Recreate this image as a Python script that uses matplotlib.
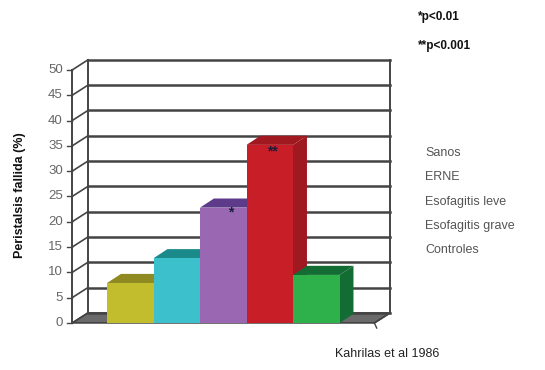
import matplotlib.pyplot as plt
from matplotlib.patches import Polygon

plt.rcParams['font.family'] = ['Liberation Sans', 'DejaVu Sans']

categories = ["Sanos", "ERNE", "Esofagitis leve", "Esofagitis grave", "Controles"]
values = [7.9, 12.8, 22.8, 35.2, 9.5]
marks = ["", "", "*", "**", ""]
yticks = [0, 5, 10, 15, 20, 25, 30, 35, 40, 45, 50]

front_colors = ["#c2bd2c", "#3cc0cc", "#9a68b2", "#c81e28", "#2eb04a"]
dark_colors = ["#8f8a22", "#1a8a8a", "#5e3a8a", "#a01820", "#126c34"]

# pseudo-3D geometry (data units)
X0 = -1.25          # front-left corner
X1 = 5.25           # front-right corner
DX, DY = 0.34, 2.0  # wall depth
BDX, BDY = 0.3, 1.8 # bar depth
YMAX = 50

fig = plt.figure(figsize=(5.45, 3.70), dpi=100)
ax = fig.add_axes([0, 0, 1, 1])
ax.set_xlim(-2.801, 8.919)
ax.set_ylim(-9.29, 63.83)
ax.axis("off")

grid_c = "#444444"

# floor
floor = Polygon([(X0, 0), (X1, 0), (X1 + DX, DY), (X0 + DX, DY)],
                closed=True, facecolor="#6a6a6a", edgecolor="#333333", lw=1.0, zorder=1)
ax.add_patch(floor)

# back wall + grid
for t in yticks:
  ax.plot([X0 + DX, X1 + DX], [t + DY, t + DY], color=grid_c, lw=1.8, zorder=2)
  ax.plot([X0, X0 + DX], [t, t + DY], color=grid_c, lw=1.2, zorder=2)
  ax.plot([X0 - 0.12, X0], [t, t], color=grid_c, lw=1.0, zorder=2)
  ax.text(X0 - 0.2, t, str(t), ha="right", va="center", fontsize=9.5, color="#666666")
ax.plot([X0 + DX, X0 + DX], [DY, YMAX + DY], color=grid_c, lw=1.4, zorder=2)
ax.plot([X1 + DX, X1 + DX], [DY, YMAX + DY], color=grid_c, lw=1.4, zorder=2)
ax.plot([X0, X0], [0, YMAX], color=grid_c, lw=1.4, zorder=2)
ax.plot([X1, X1 + DX], [0, DY], color=grid_c, lw=1.2, zorder=2)
ax.plot([X1 + 0.05, X1], [-1.0, 0], color=grid_c, lw=1.0, zorder=2)

# bars
mark_dx = [0, 0, 0.15, 0.05, 0]
mark_dy = [0, 0, -0.9, -1.4, 0]
for i, v in enumerate(values):
  left, right = i - 0.5, i + 0.5
  side = Polygon([(right, 0), (right + BDX, BDY), (right + BDX, v + BDY), (right, v)],
                 closed=True, facecolor=dark_colors[i], edgecolor="none", zorder=3 + i)
  top = Polygon([(left, v), (right, v), (right + BDX, v + BDY), (left + BDX, v + BDY)],
                closed=True, facecolor=dark_colors[i], edgecolor="none", zorder=3 + i)
  ax.add_patch(side)
  ax.add_patch(top)
  ax.bar(i, v, width=1.0, bottom=0, color=front_colors[i], edgecolor="none", zorder=3 + i)
  if marks[i]:
    ax.text(i + mark_dx[i], v + mark_dy[i], marks[i], ha="center", va="center",
            fontsize=10, fontweight="bold", color="#1c1c3a", zorder=10)

# text
fig.text(20 / 545, 1 - 195 / 370, "Peristalsis fallida (%)", rotation=90,
         ha="center", va="center", fontsize=9, fontweight="bold", color="#111111")
for k, name in enumerate(categories):
  fig.text(425 / 545, 1 - (153 + 24.3 * k) / 370, name, ha="left", va="center",
           fontsize=9, color="#555555")
fig.text(418 / 545, 1 - 17 / 370, "*p<0.01", ha="left", va="center",
         fontsize=8.5, fontweight="bold", color="#111111")
fig.text(418 / 545, 1 - 46 / 370, "**p<0.001", ha="left", va="center",
         fontsize=8.5, fontweight="bold", color="#111111")
fig.text(335 / 545, 1 - 354 / 370, "Kahrilas et al 1986", ha="left", va="center",
         fontsize=9, color="#222222")

fig.savefig("out.png", dpi=100)
